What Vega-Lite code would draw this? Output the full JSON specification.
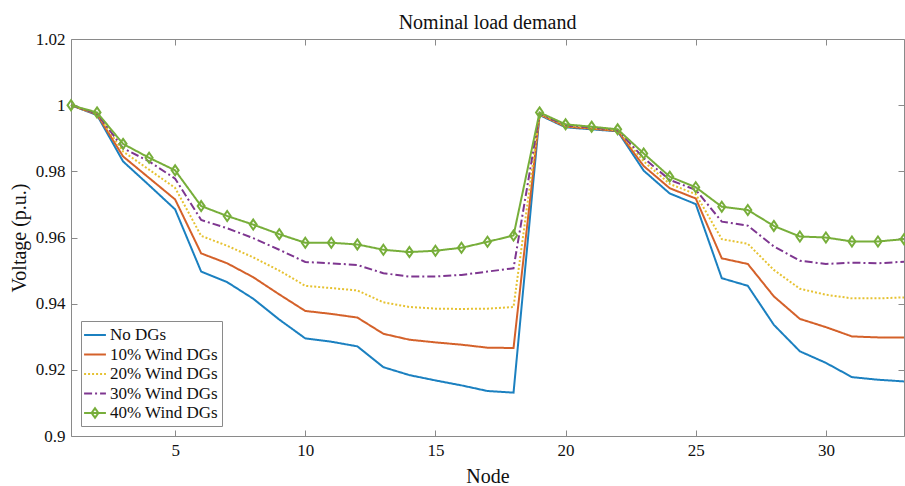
{
  "$schema": "https://vega.github.io/schema/vega-lite/v6.json",
  "width": 833,
  "height": 397,
  "autosize": {"type": "none"},
  "padding": {"left": 71, "top": 39, "right": 1, "bottom": 50},
  "background": "white",
  "title": {"text": "Nominal load demand", "font": "Liberation Serif", "fontSize": 20, "fontWeight": "normal", "color": "#111", "anchor": "middle", "offset": -3},
  "config": {
    "view": {"stroke": null},
    "font": "Liberation Serif",
    "axis": {"grid": false, "domainColor": "#8a8a8a", "tickColor": "#8a8a8a", "labelFont": "Liberation Serif", "labelFontSize": 17, "labelColor": "#111", "titleFont": "Liberation Serif", "titleFontSize": 20, "titleFontWeight": "normal", "titleColor": "#111", "tickSize": -6, "labelPadding": 12}
  },
  "data": {"values": [
    {"s":"No DGs","n":1,"v":1.0},{"s":"No DGs","n":2,"v":0.9970},{"s":"No DGs","n":3,"v":0.9830},{"s":"No DGs","n":4,"v":0.9758},{"s":"No DGs","n":5,"v":0.9685},{"s":"No DGs","n":6,"v":0.9497},{"s":"No DGs","n":7,"v":0.9465},{"s":"No DGs","n":8,"v":0.9415},{"s":"No DGs","n":9,"v":0.9352},{"s":"No DGs","n":10,"v":0.9295},{"s":"No DGs","n":11,"v":0.9285},{"s":"No DGs","n":12,"v":0.9271},{"s":"No DGs","n":13,"v":0.9208},{"s":"No DGs","n":14,"v":0.9184},{"s":"No DGs","n":15,"v":0.9168},{"s":"No DGs","n":16,"v":0.9153},{"s":"No DGs","n":17,"v":0.9136},{"s":"No DGs","n":18,"v":0.9131},{"s":"No DGs","n":19,"v":0.9970},{"s":"No DGs","n":20,"v":0.9933},{"s":"No DGs","n":21,"v":0.9927},{"s":"No DGs","n":22,"v":0.9921},{"s":"No DGs","n":23,"v":0.9802},{"s":"No DGs","n":24,"v":0.9733},{"s":"No DGs","n":25,"v":0.9701},{"s":"No DGs","n":26,"v":0.9477},{"s":"No DGs","n":27,"v":0.9454},{"s":"No DGs","n":28,"v":0.9336},{"s":"No DGs","n":29,"v":0.9256},{"s":"No DGs","n":30,"v":0.9221},{"s":"No DGs","n":31,"v":0.9178},{"s":"No DGs","n":32,"v":0.9170},{"s":"No DGs","n":33,"v":0.9165},
    {"s":"10% Wind DGs","n":1,"v":1.0},{"s":"10% Wind DGs","n":2,"v":0.9972},{"s":"10% Wind DGs","n":3,"v":0.9845},{"s":"10% Wind DGs","n":4,"v":0.9780},{"s":"10% Wind DGs","n":5,"v":0.9715},{"s":"10% Wind DGs","n":6,"v":0.9552},{"s":"10% Wind DGs","n":7,"v":0.9522},{"s":"10% Wind DGs","n":8,"v":0.9480},{"s":"10% Wind DGs","n":9,"v":0.9428},{"s":"10% Wind DGs","n":10,"v":0.9378},{"s":"10% Wind DGs","n":11,"v":0.9369},{"s":"10% Wind DGs","n":12,"v":0.9358},{"s":"10% Wind DGs","n":13,"v":0.9309},{"s":"10% Wind DGs","n":14,"v":0.9291},{"s":"10% Wind DGs","n":15,"v":0.9283},{"s":"10% Wind DGs","n":16,"v":0.9276},{"s":"10% Wind DGs","n":17,"v":0.9267},{"s":"10% Wind DGs","n":18,"v":0.9266},{"s":"10% Wind DGs","n":19,"v":0.9972},{"s":"10% Wind DGs","n":20,"v":0.9935},{"s":"10% Wind DGs","n":21,"v":0.9929},{"s":"10% Wind DGs","n":22,"v":0.9922},{"s":"10% Wind DGs","n":23,"v":0.9816},{"s":"10% Wind DGs","n":24,"v":0.9749},{"s":"10% Wind DGs","n":25,"v":0.9718},{"s":"10% Wind DGs","n":26,"v":0.9537},{"s":"10% Wind DGs","n":27,"v":0.9520},{"s":"10% Wind DGs","n":28,"v":0.9422},{"s":"10% Wind DGs","n":29,"v":0.9354},{"s":"10% Wind DGs","n":30,"v":0.9329},{"s":"10% Wind DGs","n":31,"v":0.9301},{"s":"10% Wind DGs","n":32,"v":0.9298},{"s":"10% Wind DGs","n":33,"v":0.9298},
    {"s":"20% Wind DGs","n":1,"v":1.0},{"s":"20% Wind DGs","n":2,"v":0.9974},{"s":"20% Wind DGs","n":3,"v":0.9860},{"s":"20% Wind DGs","n":4,"v":0.9805},{"s":"20% Wind DGs","n":5,"v":0.9750},{"s":"20% Wind DGs","n":6,"v":0.9605},{"s":"20% Wind DGs","n":7,"v":0.9575},{"s":"20% Wind DGs","n":8,"v":0.9540},{"s":"20% Wind DGs","n":9,"v":0.9500},{"s":"20% Wind DGs","n":10,"v":0.9454},{"s":"20% Wind DGs","n":11,"v":0.9447},{"s":"20% Wind DGs","n":12,"v":0.9440},{"s":"20% Wind DGs","n":13,"v":0.9404},{"s":"20% Wind DGs","n":14,"v":0.9390},{"s":"20% Wind DGs","n":15,"v":0.9385},{"s":"20% Wind DGs","n":16,"v":0.9384},{"s":"20% Wind DGs","n":17,"v":0.9385},{"s":"20% Wind DGs","n":18,"v":0.9390},{"s":"20% Wind DGs","n":19,"v":0.9973},{"s":"20% Wind DGs","n":20,"v":0.9937},{"s":"20% Wind DGs","n":21,"v":0.9931},{"s":"20% Wind DGs","n":22,"v":0.9924},{"s":"20% Wind DGs","n":23,"v":0.9830},{"s":"20% Wind DGs","n":24,"v":0.9762},{"s":"20% Wind DGs","n":25,"v":0.9731},{"s":"20% Wind DGs","n":26,"v":0.9595},{"s":"20% Wind DGs","n":27,"v":0.9581},{"s":"20% Wind DGs","n":28,"v":0.9502},{"s":"20% Wind DGs","n":29,"v":0.9445},{"s":"20% Wind DGs","n":30,"v":0.9427},{"s":"20% Wind DGs","n":31,"v":0.9416},{"s":"20% Wind DGs","n":32,"v":0.9416},{"s":"20% Wind DGs","n":33,"v":0.9419},
    {"s":"30% Wind DGs","n":1,"v":1.0},{"s":"30% Wind DGs","n":2,"v":0.9975},{"s":"30% Wind DGs","n":3,"v":0.9870},{"s":"30% Wind DGs","n":4,"v":0.9830},{"s":"30% Wind DGs","n":5,"v":0.9778},{"s":"30% Wind DGs","n":6,"v":0.9653},{"s":"30% Wind DGs","n":7,"v":0.9628},{"s":"30% Wind DGs","n":8,"v":0.9598},{"s":"30% Wind DGs","n":9,"v":0.9563},{"s":"30% Wind DGs","n":10,"v":0.9526},{"s":"30% Wind DGs","n":11,"v":0.9522},{"s":"30% Wind DGs","n":12,"v":0.9517},{"s":"30% Wind DGs","n":13,"v":0.9492},{"s":"30% Wind DGs","n":14,"v":0.9482},{"s":"30% Wind DGs","n":15,"v":0.9482},{"s":"30% Wind DGs","n":16,"v":0.9487},{"s":"30% Wind DGs","n":17,"v":0.9497},{"s":"30% Wind DGs","n":18,"v":0.9507},{"s":"30% Wind DGs","n":19,"v":0.9975},{"s":"30% Wind DGs","n":20,"v":0.9939},{"s":"30% Wind DGs","n":21,"v":0.9933},{"s":"30% Wind DGs","n":22,"v":0.9925},{"s":"30% Wind DGs","n":23,"v":0.9840},{"s":"30% Wind DGs","n":24,"v":0.9774},{"s":"30% Wind DGs","n":25,"v":0.9744},{"s":"30% Wind DGs","n":26,"v":0.9648},{"s":"30% Wind DGs","n":27,"v":0.9636},{"s":"30% Wind DGs","n":28,"v":0.9573},{"s":"30% Wind DGs","n":29,"v":0.9530},{"s":"30% Wind DGs","n":30,"v":0.9520},{"s":"30% Wind DGs","n":31,"v":0.9524},{"s":"30% Wind DGs","n":32,"v":0.9522},{"s":"30% Wind DGs","n":33,"v":0.9527},
    {"s":"40% Wind DGs","n":1,"v":1.0},{"s":"40% Wind DGs","n":2,"v":0.9978},{"s":"40% Wind DGs","n":3,"v":0.9883},{"s":"40% Wind DGs","n":4,"v":0.9841},{"s":"40% Wind DGs","n":5,"v":0.9803},{"s":"40% Wind DGs","n":6,"v":0.9695},{"s":"40% Wind DGs","n":7,"v":0.9665},{"s":"40% Wind DGs","n":8,"v":0.9639},{"s":"40% Wind DGs","n":9,"v":0.9610},{"s":"40% Wind DGs","n":10,"v":0.9584},{"s":"40% Wind DGs","n":11,"v":0.9584},{"s":"40% Wind DGs","n":12,"v":0.9579},{"s":"40% Wind DGs","n":13,"v":0.9563},{"s":"40% Wind DGs","n":14,"v":0.9556},{"s":"40% Wind DGs","n":15,"v":0.9560},{"s":"40% Wind DGs","n":16,"v":0.9569},{"s":"40% Wind DGs","n":17,"v":0.9587},{"s":"40% Wind DGs","n":18,"v":0.9606},{"s":"40% Wind DGs","n":19,"v":0.9978},{"s":"40% Wind DGs","n":20,"v":0.9942},{"s":"40% Wind DGs","n":21,"v":0.9935},{"s":"40% Wind DGs","n":22,"v":0.9927},{"s":"40% Wind DGs","n":23,"v":0.9854},{"s":"40% Wind DGs","n":24,"v":0.9784},{"s":"40% Wind DGs","n":25,"v":0.9752},{"s":"40% Wind DGs","n":26,"v":0.9693},{"s":"40% Wind DGs","n":27,"v":0.9683},{"s":"40% Wind DGs","n":28,"v":0.9635},{"s":"40% Wind DGs","n":29,"v":0.9603},{"s":"40% Wind DGs","n":30,"v":0.9600},{"s":"40% Wind DGs","n":31,"v":0.9588},{"s":"40% Wind DGs","n":32,"v":0.9588},{"s":"40% Wind DGs","n":33,"v":0.9595}
  ]},
  "layer": [
    {
      "mark": {"type": "line", "strokeWidth": 2},
      "encoding": {
        "x": {"field": "n", "type": "quantitative", "scale": {"domain": [1, 33], "nice": false, "zero": false},
              "axis": {"values": [5, 10, 15, 20, 25, 30], "title": "Node", "titlePadding": 8}},
        "y": {"field": "v", "type": "quantitative", "scale": {"domain": [0.9, 1.02], "nice": false, "zero": false},
              "axis": {"values": [0.9, 0.92, 0.94, 0.96, 0.98, 1, 1.02], "format": "~g", "title": "Voltage (p.u.)", "titlePadding": 6}},
        "color": {"field": "s", "type": "nominal", "title": null,
                  "scale": {"domain": ["No DGs", "10% Wind DGs", "20% Wind DGs", "30% Wind DGs", "40% Wind DGs"],
                            "range": ["#1b80c0", "#d4612a", "#e6c232", "#7e3690", "#77ae3a"]},
                  "legend": {"orient": "bottom-left", "offset": 10, "symbolType": "stroke", "symbolSize": 361, "symbolStrokeWidth": 2,
                             "labelFont": "Liberation Serif", "labelFontSize": 17, "labelColor": "#111", "labelOffset": 4.5,
                             "rowPadding": 0.5, "padding": 3.5, "strokeColor": "#8a8a8a", "fillColor": "white",
                             "encode": {"symbols": {"update": {"shape": {"signal": "datum.value === '40% Wind DGs' ? 'M-1.15,0H1.15M0,-0.5L0.36,0L0,0.5L-0.36,0Z' : 'M-1.15,0H1.15'"}}}}}},
        "strokeDash": {"field": "s", "type": "nominal", "title": null,
                       "scale": {"domain": ["No DGs", "10% Wind DGs", "20% Wind DGs", "30% Wind DGs", "40% Wind DGs"],
                                 "range": [[1, 0], [1, 0], [2, 2], [8, 3, 2, 3], [1, 0]]}}
      }
    },
    {
      "transform": [{"filter": "datum.s === '40% Wind DGs'"}],
      "mark": {"type": "point", "shape": "M0,-1L0.7,0L0,1L-0.7,0Z", "size": 100, "filled": false, "strokeWidth": 2, "color": "#77ae3a", "opacity": 1},
      "encoding": {
        "x": {"field": "n", "type": "quantitative", "axis": {"orient": "top", "values": [5, 10, 15, 20, 25, 30], "labels": false, "title": null}},
        "y": {"field": "v", "type": "quantitative", "axis": {"orient": "right", "values": [0.9, 0.92, 0.94, 0.96, 0.98, 1, 1.02], "labels": false, "title": null}}
      }
    }
  ],
  "resolve": {"axis": {"x": "independent", "y": "independent"}}
}
